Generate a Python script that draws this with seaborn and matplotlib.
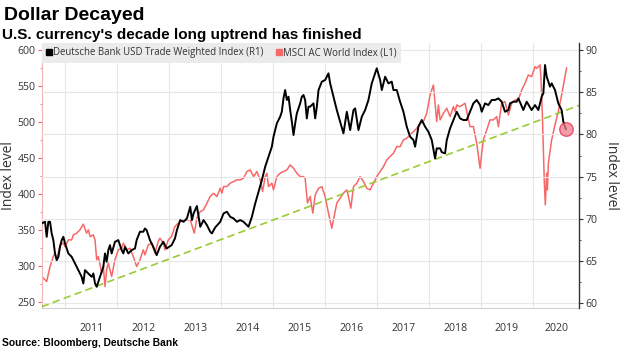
import numpy as np
import pandas as pd
import matplotlib
matplotlib.use("Agg")
import matplotlib.pyplot as plt
from matplotlib.lines import Line2D
from matplotlib.ticker import FixedLocator, MultipleLocator
import seaborn as sns

# ---------------- data (decimal years) ----------------
db_years = [2010.545, 2010.609, 2010.641, 2010.673, 2010.705, 2010.737, 2010.769, 2010.801, 2010.834, 2010.866,
            2010.898, 2010.930, 2010.962, 2010.994, 2011.026, 2011.058, 2011.122, 2011.186, 2011.250, 2011.314,
            2011.346, 2011.378, 2011.443, 2011.507, 2011.539, 2011.571, 2011.603, 2011.667, 2011.731, 2011.763,
            2011.795, 2011.827, 2011.859, 2011.891, 2011.955, 2012.019, 2012.084, 2012.116, 2012.148, 2012.212,
            2012.276, 2012.340, 2012.372, 2012.436, 2012.500, 2012.532, 2012.564, 2012.628, 2012.692, 2012.757,
            2012.821, 2012.885, 2012.949, 2013.045, 2013.109, 2013.147, 2013.211, 2013.275, 2013.340, 2013.404,
            2013.436, 2013.468, 2013.532, 2013.596, 2013.660, 2013.724, 2013.788, 2013.820, 2013.884, 2013.981,
            2014.045, 2014.109, 2014.173, 2014.237, 2014.301, 2014.365, 2014.429, 2014.493, 2014.525, 2014.590,
            2014.654, 2014.718, 2014.782, 2014.846, 2014.910, 2014.974, 2015.006, 2015.070, 2015.134, 2015.166,
            2015.198, 2015.230, 2015.263, 2015.295, 2015.327, 2015.359, 2015.391, 2015.423, 2015.455, 2015.519,
            2015.551, 2015.583, 2015.615, 2015.647, 2015.679, 2015.711, 2015.775, 2015.808, 2015.840, 2015.872,
            2015.936, 2016.000, 2016.064, 2016.096, 2016.160, 2016.224, 2016.288, 2016.352, 2016.417, 2016.481,
            2016.545, 2016.577, 2016.641, 2016.705, 2016.769, 2016.833, 2016.897, 2016.961, 2016.993, 2017.058,
            2017.090, 2017.154, 2017.218, 2017.282, 2017.314, 2017.378, 2017.442, 2017.506, 2017.570, 2017.635,
            2017.699, 2017.731, 2017.795, 2017.859, 2017.923, 2017.987, 2018.051, 2018.115, 2018.147, 2018.212,
            2018.244, 2018.308, 2018.340, 2018.404, 2018.468, 2018.532, 2018.596, 2018.660, 2018.724, 2018.788,
            2018.852, 2018.917, 2018.981, 2019.013, 2019.077, 2019.141, 2019.205, 2019.269, 2019.333, 2019.397,
            2019.461, 2019.526, 2019.558, 2019.622, 2019.686, 2019.718, 2019.814, 2019.878, 2019.974, 2020.038,
            2020.103, 2020.167, 2020.199, 2020.231, 2020.263, 2020.327, 2020.359, 2020.423, 2020.487, 2020.551,
            2020.583, 2020.634]
db_values = [69.46, 69.66, 67.88, 69.66, 69.66, 68.28, 67.49, 65.91, 65.12, 65.51,
             66.70, 67.49, 67.88, 67.09, 66.50, 65.91, 65.51, 64.72, 63.93, 63.14,
             62.35, 63.93, 63.54, 63.14, 63.54, 62.35, 61.96, 63.14, 64.33, 65.91,
             64.92, 66.30, 66.89, 65.91, 67.29, 67.49, 66.30, 65.91, 66.70, 65.91,
             66.30, 66.50, 67.49, 68.48, 68.48, 68.87, 68.67, 67.49, 66.70, 65.71,
             66.70, 67.29, 66.50, 66.89, 67.68, 68.67, 69.86, 69.66, 70.06, 71.44,
             69.86, 70.65, 71.52, 69.07, 69.86, 69.27, 68.48, 68.28, 68.99, 69.66,
             70.65, 70.85, 70.25, 70.06, 69.66, 69.86, 69.66, 69.27, 69.07, 70.25,
             71.83, 73.21, 74.60, 76.18, 77.36, 78.55, 79.73, 81.31, 82.10, 82.69,
             84.27, 85.26, 84.08, 84.47, 82.89, 81.51, 79.93, 81.31, 82.50, 83.68,
             84.47, 84.67, 84.08, 81.90, 83.29, 83.29, 83.68, 81.90, 83.29, 85.26,
             86.25, 86.45, 87.24, 86.05, 84.47, 82.89, 81.51, 80.13, 82.69, 80.52,
             82.89, 83.09, 80.52, 82.10, 82.89, 84.08, 86.05, 87.24, 87.83, 86.45,
             85.26, 86.84, 86.05, 86.25, 85.26, 85.26, 83.88, 82.69, 80.92, 79.73,
             79.34, 78.55, 80.92, 81.71, 80.92, 80.32, 79.34, 77.16, 78.35, 78.35,
             77.90, 77.76, 79.34, 80.72, 81.71, 82.69, 81.90, 81.71, 81.71, 82.69,
             83.68, 84.08, 83.48, 82.69, 83.68, 83.48, 84.08, 84.08, 84.27, 83.88,
             82.69, 82.89, 83.68, 83.88, 83.88, 84.27, 82.89, 83.88, 82.89, 83.48,
             82.89, 84.47, 84.87, 88.22, 86.84, 85.66, 86.05, 85.26, 83.68, 82.89,
             81.51, 80.60]

msci_years = [2010.545, 2010.609, 2010.641, 2010.705, 2010.769, 2010.801, 2010.834, 2010.898, 2010.962, 2010.994,
              2011.058, 2011.122, 2011.154, 2011.218, 2011.282, 2011.346, 2011.410, 2011.443, 2011.475, 2011.539,
              2011.571, 2011.603, 2011.635, 2011.699, 2011.731, 2011.763, 2011.795, 2011.827, 2011.891, 2011.955,
              2012.019, 2012.084, 2012.116, 2012.180, 2012.244, 2012.308, 2012.372, 2012.436, 2012.500, 2012.532,
              2012.596, 2012.660, 2012.724, 2012.788, 2012.821, 2012.885, 2012.917, 2012.981, 2013.045, 2013.109,
              2013.173, 2013.211, 2013.308, 2013.404, 2013.481, 2013.532, 2013.596, 2013.660, 2013.724, 2013.788,
              2013.852, 2013.917, 2013.981, 2014.013, 2014.045, 2014.109, 2014.173, 2014.237, 2014.301, 2014.365,
              2014.429, 2014.493, 2014.558, 2014.622, 2014.686, 2014.750, 2014.795, 2014.846, 2014.878, 2014.910,
              2014.974, 2015.006, 2015.070, 2015.134, 2015.198, 2015.263, 2015.327, 2015.391, 2015.455, 2015.519,
              2015.583, 2015.615, 2015.660, 2015.711, 2015.763, 2015.808, 2015.872, 2015.936, 2016.000, 2016.064,
              2016.128, 2016.160, 2016.224, 2016.288, 2016.352, 2016.417, 2016.449, 2016.494, 2016.545, 2016.609,
              2016.673, 2016.737, 2016.801, 2016.865, 2016.929, 2016.993, 2017.058, 2017.122, 2017.186, 2017.250,
              2017.314, 2017.378, 2017.442, 2017.506, 2017.570, 2017.635, 2017.699, 2017.763, 2017.827, 2017.891,
              2017.955, 2018.019, 2018.083, 2018.147, 2018.179, 2018.212, 2018.276, 2018.340, 2018.404, 2018.468,
              2018.500, 2018.532, 2018.596, 2018.692, 2018.724, 2018.788, 2018.852, 2018.917, 2018.981, 2019.013,
              2019.045, 2019.109, 2019.173, 2019.237, 2019.301, 2019.333, 2019.397, 2019.461, 2019.526, 2019.590,
              2019.654, 2019.718, 2019.782, 2019.846, 2019.910, 2019.974, 2020.038, 2020.071, 2020.135, 2020.154,
              2020.179, 2020.199, 2020.218, 2020.237, 2020.263, 2020.276, 2020.295, 2020.359, 2020.423, 2020.487,
              2020.551, 2020.615, 2020.647]
msci_values = [285.6, 281.0, 278.7, 299.5, 313.4, 318.1, 308.8, 329.6, 332.0, 327.3,
               336.6, 336.6, 343.5, 345.9, 350.5, 358.4, 345.9, 350.5, 341.2, 343.5,
               336.6, 308.8, 313.4, 290.3, 299.5, 271.7, 294.9, 304.2, 285.6, 308.8,
               322.7, 325.0, 332.0, 322.7, 325.0, 313.4, 299.5, 308.8, 322.7, 315.7,
               329.6, 332.0, 318.1, 334.3, 338.9, 332.0, 322.7, 336.6, 341.2, 355.1,
               359.8, 362.1, 364.4, 364.4, 345.9, 366.7, 376.0, 378.3, 387.6, 396.8,
               401.5, 396.8, 408.4, 401.5, 410.7, 410.7, 415.4, 417.7, 420.0, 420.0,
               422.3, 431.6, 433.9, 424.6, 431.6, 420.0, 403.8, 424.6, 429.3, 410.7,
               415.4, 406.1, 424.6, 429.3, 431.6, 433.9, 440.8, 436.2, 429.3, 424.6,
               424.6, 422.3, 388.0, 396.8, 373.7, 399.1, 408.4, 410.7, 396.8, 373.7,
               352.8, 364.4, 387.6, 394.5, 401.5, 406.1, 396.8, 380.6, 410.7, 415.4,
               424.6, 417.7, 408.4, 406.1, 415.4, 424.6, 431.6, 438.5, 447.8, 452.4,
               457.1, 466.3, 466.3, 475.6, 477.9, 482.5, 487.2, 491.8, 498.8, 501.1,
               512.7, 538.1, 552.0, 501.1, 524.2, 503.4, 512.7, 519.6, 508.0, 521.9,
               515.0, 524.2, 521.9, 526.6, 515.0, 494.1, 494.1, 471.0, 436.2, 457.1,
               475.6, 489.5, 503.4, 503.4, 508.0, 494.1, 526.6, 528.9, 510.3, 526.6,
               531.2, 531.2, 545.1, 554.4, 565.9, 563.6, 577.5, 575.2, 579.9, 559.0,
               512.7, 461.7, 415.4, 385.3, 429.3, 406.1, 443.2, 475.6, 496.5, 515.0,
               538.1, 563.6, 576.0]

trend_years = [2010.545, 2020.885]
trend_values = [59.6, 83.44]

year_ticks = [2011, 2012, 2013, 2014, 2015, 2016, 2017, 2018, 2019, 2020]
year_labels = ["2011", "2012", "2013", "2014", "2015", "2016", "2017", "2018", "2019", "2020"]
left_ticks = [250, 300, 350, 400, 450, 500, 550, 600]
right_ticks = [60, 65, 70, 75, 80, 85, 90]

# ---------------- style ----------------
sns.set_style("white")
plt.rcParams["font.family"] = ["Open Sans", "DejaVu Sans"]

RED = "#f76868"
GRID = "#e7e7e7"
TXT = "#333333"

fig = plt.figure(figsize=(6.2, 3.48), dpi=100)
W, H = 620.0, 348.0
x0, x1, y_top, y_bot = 41.7, 579.0, 43.0, 308.0
ax = fig.add_axes([x0 / W, 1 - y_bot / H, (x1 - x0) / W, (y_bot - y_top) / H])
ax2 = ax.twinx()

XMIN, XMAX = 2010.545, 2020.885
ax.set_xlim(XMIN, XMAX)
ax.set_ylim(241.8, 610.4)
ax2.set_ylim(59.45, 90.83)

# lines
sns.lineplot(x=msci_years, y=msci_values, ax=ax, color=RED, linewidth=1.1, estimator=None)
sns.lineplot(x=trend_years, y=trend_values, ax=ax2, color="#9acb34", linewidth=1.2,
             linestyle=(0, (4.5, 2.5)), estimator=None)
sns.lineplot(x=db_years, y=db_values, ax=ax2, color="black", linewidth=1.4, estimator=None)
sns.scatterplot(x=[db_years[-1]], y=[db_values[-1]], ax=ax2, s=95, color="#f27b8e",
                alpha=0.75, edgecolor="#e2304b", linewidth=1.0, zorder=5)

# grids
ax.set_xticks(year_ticks)
ax.grid(axis="x", which="major", color=GRID, linewidth=0.8)
ax.grid(axis="y", visible=False)
ax2.grid(axis="y", color=GRID, linewidth=0.8)
ax2.set_axisbelow(True)
ax.set_axisbelow(True)

# x axis: separators at year starts, labels at mid of visible year
label_pos = [y + 0.5 for y in year_ticks[:-1]] + [(year_ticks[-1] + XMAX) / 2]
ax.xaxis.set_minor_locator(FixedLocator(label_pos))
ax.set_xticklabels([], minor=False)
ax.set_xticklabels(year_labels, minor=True)
ax.tick_params(axis="x", which="major", length=19.5, width=0.8, color="#a0a0a0", direction="out")
ax.tick_params(axis="x", which="minor", length=0, pad=11, labelsize=7.6, labelcolor=TXT)

# left axis
ax.set_yticks(left_ticks)
ax.yaxis.set_minor_locator(MultipleLocator(25))
ax.tick_params(axis="y", which="major", length=3, width=0.8, color=RED, labelsize=7.6,
               labelcolor=TXT, pad=1.5)
ax.tick_params(axis="y", which="minor", length=1.5, width=0.6, color=RED)
ax.set_ylabel("")

# right axis
ax2.set_yticks(right_ticks)
ax2.yaxis.set_minor_locator(MultipleLocator(2.5))
ax2.tick_params(axis="y", which="major", length=3, width=0.8, color="#333333", labelsize=7.6,
                labelcolor=TXT, pad=1.5)
ax2.tick_params(axis="y", which="minor", length=1.5, width=0.6, color="#333333")
ax2.set_ylabel("")
ax2.set_xlim(XMIN, XMAX)

# axis titles
yc = 1 - ((y_top + y_bot) / 2) / H
fig.text(8.5 / W, yc, "Index level", rotation=90, fontsize=10, color=TXT, ha="center", va="center")
fig.text(612 / W, yc, "Index level", rotation=270, fontsize=10, color=TXT, ha="center", va="center")

# spines
for s in ["top", "right"]:
    ax.spines[s].set_visible(False)
ax.spines["left"].set_color("#f6b3b3")
ax.spines["left"].set_linewidth(0.8)
ax.spines["bottom"].set_color("#d0d0d0")
ax.spines["bottom"].set_linewidth(0.8)
for s in ["top", "left", "bottom"]:
    ax2.spines[s].set_visible(False)
ax2.spines["right"].set_color("#333333")
ax2.spines["right"].set_linewidth(1.0)

# legend
handles = [Line2D([], [], marker="s", color="black", linestyle="none", markersize=4.5),
           Line2D([], [], marker="s", color=RED, linestyle="none", markersize=4.5)]
leg = ax2.legend(handles, ["Deutsche Bank USD Trade Weighted Index (R1)", "MSCI AC World Index (L1)"],
                 loc="upper left", bbox_to_anchor=(0, 1), borderaxespad=0, ncol=2, frameon=True,
                 fancybox=False, fontsize=6.9, handlelength=0.6, handletextpad=0.15,
                 columnspacing=1.3, borderpad=0.45)
leg.get_frame().set_facecolor("#ebebeb")
leg.get_frame().set_edgecolor("none")
leg.get_frame().set_alpha(1)
for t in leg.get_texts():
    t.set_color(TXT)

# titles
fig.text(4 / W, 1 - 15 / H, "Dollar Decayed", fontsize=14, fontweight="bold",
         family=["Liberation Sans", "DejaVu Sans"], va="center", ha="left", color="black")
fig.text(2 / W, 1 - 35.5 / H, "U.S. currency's decade long uptrend has finished", fontsize=11,
         fontweight="bold", family=["Liberation Sans", "DejaVu Sans"], va="center", ha="left", color="black")
fig.text(2 / W, 1 - 342.5 / H, "Source: Bloomberg, Deutsche Bank", fontsize=7.4, fontweight="bold",
         family=["Liberation Sans", "DejaVu Sans"], va="center", ha="left", color="black")

fig.savefig("out.png", dpi=100)
